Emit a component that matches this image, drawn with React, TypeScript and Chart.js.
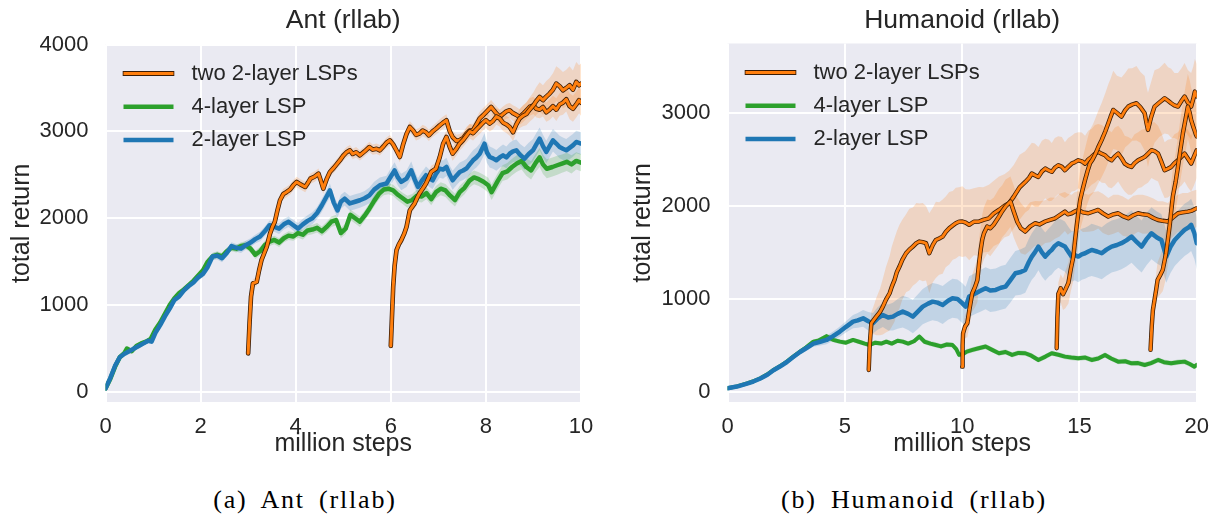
import { useEffect, useRef } from 'react';
import { Chart, registerables } from 'chart.js';

Chart.register(...registerables);

// [million steps, mean return, spread]
type Pt = [number, number, number];

const SANS = "'Liberation Sans', Arial, sans-serif";
const SERIF = "'Liberation Serif', 'Times New Roman', serif";

const LEGEND_LABELS = ['two 2-layer LSPs', '4-layer LSP', '2-layer LSP'];
const ORANGE = '#ff7f0e';
const GREEN = '#2ca02c';
const BLUE = '#1f77b4';
const LEGEND_COLORS = [ORANGE, GREEN, BLUE];

const ANT_TITLE = 'Ant (rllab)';
const ANT_CAPTION = '(a) Ant (rllab)';
const ANT_X_TICKS = [0, 2, 4, 6, 8, 10];
const ANT_Y_TICKS = [0, 1000, 2000, 3000, 4000];

const HUM_TITLE = 'Humanoid (rllab)';
const HUM_CAPTION = '(b) Humanoid (rllab)';
const HUM_X_TICKS = [0, 5, 10, 15, 20];
const HUM_Y_TICKS = [0, 1000, 2000, 3000];

const X_LABEL = 'million steps';
const Y_LABEL = 'total return';

// ---------- Ant (rllab) ----------
const antGreen: Pt[] = [
  [0, 40, 15], [0.1, 150, 20], [0.2, 290, 20], [0.3, 400, 20], [0.4, 450, 20], [0.45, 500, 25], [0.55, 470, 20],
  [0.65, 530, 25], [0.75, 560, 25], [0.85, 580, 25], [0.95, 610, 30], [1.05, 720, 30], [1.15, 800, 30], [1.25, 900, 35],
  [1.35, 1000, 35], [1.45, 1080, 35], [1.55, 1140, 35], [1.65, 1180, 35], [1.75, 1230, 35], [1.85, 1280, 35],
  [1.95, 1340, 35], [2.05, 1400, 40], [2.15, 1500, 40], [2.25, 1560, 40], [2.35, 1580, 40], [2.45, 1560, 40],
  [2.55, 1620, 40], [2.65, 1660, 40], [2.75, 1650, 45], [2.85, 1680, 45], [2.95, 1690, 45], [3.05, 1650, 45],
  [3.15, 1580, 50], [3.25, 1620, 50], [3.35, 1690, 50], [3.45, 1730, 50], [3.55, 1750, 50], [3.65, 1720, 50],
  [3.75, 1770, 50], [3.85, 1800, 50], [3.95, 1790, 50], [4.05, 1830, 55], [4.15, 1810, 55], [4.25, 1860, 55],
  [4.35, 1870, 55], [4.45, 1890, 55], [4.55, 1850, 55], [4.65, 1900, 60], [4.75, 1960, 60], [4.85, 1980, 60],
  [4.95, 1830, 60], [5.05, 1880, 60], [5.15, 2040, 60], [5.25, 2000, 60], [5.35, 1960, 60], [5.45, 2030, 60],
  [5.55, 2110, 60], [5.65, 2200, 65], [5.75, 2280, 65], [5.85, 2330, 65], [5.95, 2340, 65], [6.05, 2320, 65],
  [6.15, 2270, 65], [6.25, 2230, 65], [6.35, 2190, 70], [6.45, 2210, 70], [6.55, 2260, 70], [6.65, 2250, 70],
  [6.75, 2290, 70], [6.85, 2220, 70], [6.95, 2300, 70], [7.05, 2340, 75], [7.15, 2320, 75], [7.25, 2260, 75],
  [7.35, 2210, 75], [7.45, 2300, 75], [7.55, 2350, 75], [7.65, 2430, 80], [7.75, 2470, 80], [7.85, 2450, 80],
  [7.95, 2420, 80], [8.05, 2380, 85], [8.12, 2300, 90], [8.25, 2430, 90], [8.35, 2520, 90], [8.45, 2540, 95],
  [8.55, 2590, 95], [8.65, 2630, 95], [8.75, 2660, 100], [8.85, 2590, 100], [8.95, 2550, 105], [9.05, 2640, 105],
  [9.13, 2700, 110], [9.2, 2620, 110], [9.28, 2570, 110], [9.4, 2590, 110], [9.5, 2610, 110], [9.6, 2630, 105],
  [9.7, 2650, 105], [9.8, 2620, 105], [9.9, 2660, 100], [10, 2640, 100],
];

const antBlue: Pt[] = [
  [0, 40, 15], [0.1, 160, 20], [0.2, 300, 20], [0.3, 400, 20], [0.4, 440, 20], [0.5, 470, 20], [0.6, 500, 25],
  [0.7, 530, 25], [0.8, 560, 25], [0.9, 590, 25], [0.97, 580, 25], [1.05, 680, 30], [1.15, 770, 30], [1.25, 870, 35],
  [1.35, 960, 35], [1.45, 1060, 35], [1.55, 1100, 35], [1.65, 1170, 35], [1.75, 1220, 35], [1.85, 1260, 35],
  [1.95, 1320, 40], [2.05, 1360, 40], [2.15, 1440, 40], [2.25, 1560, 40], [2.35, 1570, 45], [2.45, 1540, 45],
  [2.55, 1600, 45], [2.65, 1680, 45], [2.75, 1660, 45], [2.85, 1650, 50], [2.95, 1690, 50], [3.05, 1720, 50],
  [3.15, 1760, 50], [3.25, 1790, 55], [3.35, 1850, 55], [3.45, 1920, 55], [3.55, 1900, 55], [3.65, 1880, 60],
  [3.75, 1930, 60], [3.85, 1960, 60], [3.95, 1920, 60], [4.05, 1880, 65], [4.15, 1930, 65], [4.25, 1970, 65],
  [4.35, 2000, 70], [4.45, 2060, 70], [4.55, 2150, 75], [4.65, 2250, 75], [4.72, 2320, 80], [4.8, 2180, 80],
  [4.88, 2090, 80], [4.95, 2190, 80], [5.03, 2226, 80], [5.14, 2170, 85], [5.25, 2190, 85], [5.35, 2207, 85],
  [5.45, 2230, 85], [5.55, 2264, 90], [5.65, 2330, 90], [5.77, 2380, 90], [5.91, 2400, 90], [6.0, 2480, 95],
  [6.08, 2550, 95], [6.15, 2470, 95], [6.22, 2418, 95], [6.33, 2456, 95], [6.43, 2552, 100], [6.5, 2450, 100],
  [6.57, 2360, 100], [6.65, 2430, 100], [6.74, 2495, 100], [6.81, 2460, 100], [6.88, 2437, 100], [6.95, 2510, 105],
  [7.03, 2572, 105], [7.1, 2560, 105], [7.17, 2591, 105], [7.24, 2500, 105], [7.3, 2437, 110], [7.38, 2490, 110],
  [7.45, 2533, 110], [7.52, 2550, 110], [7.59, 2572, 110], [7.66, 2620, 115], [7.73, 2667, 115], [7.8, 2700, 115],
  [7.87, 2743, 115], [7.97, 2858, 120], [8.02, 2760, 120], [8.08, 2705, 120], [8.15, 2690, 120], [8.22, 2667, 120],
  [8.29, 2700, 120], [8.36, 2724, 125], [8.43, 2700, 125], [8.5, 2743, 125], [8.57, 2770, 125], [8.64, 2782, 125],
  [8.72, 2730, 125], [8.81, 2686, 130], [8.9, 2740, 130], [8.99, 2782, 130], [9.06, 2850, 130], [9.13, 2916, 130],
  [9.2, 2830, 130], [9.27, 2763, 130], [9.34, 2830, 130], [9.41, 2897, 130], [9.48, 2860, 130], [9.55, 2820, 130],
  [9.62, 2800, 130], [9.69, 2782, 130], [9.76, 2810, 130], [9.83, 2839, 130], [9.9, 2878, 130], [10, 2860, 130],
];

// two-stage runs: the second stage starts at 3M and at 6M steps
const antTwoA: Pt[] = [
  [3.0, 445, 30], [3.03, 800, 40], [3.06, 1096, 50], [3.1, 1250, 50], [3.18, 1267, 50], [3.23, 1400, 55],
  [3.28, 1517, 55], [3.34, 1600, 55], [3.39, 1670, 55], [3.46, 1823, 60], [3.51, 1900, 60], [3.56, 1958, 60],
  [3.62, 2100, 60], [3.67, 2207, 60], [3.74, 2280, 60], [3.81, 2303, 60], [3.88, 2330, 60], [3.95, 2380, 60],
  [4.02, 2418, 60], [4.1, 2390, 60], [4.2, 2360, 60], [4.26, 2410, 60], [4.31, 2456, 60], [4.4, 2480, 60],
  [4.48, 2514, 60], [4.53, 2430, 60], [4.58, 2341, 60], [4.65, 2450, 60], [4.72, 2533, 60], [4.8, 2580, 60],
  [4.86, 2620, 60], [4.93, 2667, 60], [5.0, 2720, 60], [5.07, 2760, 60], [5.14, 2782, 60], [5.2, 2740, 60],
  [5.27, 2760, 60], [5.35, 2724, 60], [5.45, 2770, 60], [5.55, 2820, 60], [5.62, 2790, 60], [5.7, 2800, 60],
  [5.77, 2782, 60], [5.85, 2830, 60], [5.91, 2870, 60], [5.98, 2897, 60], [6.05, 2850, 60], [6.12, 2780, 60],
  [6.19, 2705, 60], [6.26, 2850, 65], [6.33, 2970, 65], [6.4, 3051, 65], [6.47, 3010, 65], [6.53, 2960, 65],
  [6.6, 2974, 65], [6.67, 3010, 65], [6.74, 2990, 65], [6.8, 2954, 65], [6.88, 3000, 65], [6.95, 3030, 65],
  [7.03, 3070, 70], [7.1, 3100, 70], [7.17, 3128, 70], [7.24, 3000, 70], [7.3, 2935, 70], [7.38, 2890, 70],
  [7.45, 2900, 70], [7.52, 2920, 70], [7.6, 2980, 75], [7.66, 3010, 75], [7.73, 3013, 75], [7.8, 3080, 75],
  [7.87, 3150, 75], [7.94, 3185, 80], [8.02, 3230, 80], [8.11, 3281, 80], [8.2, 3220, 80], [8.29, 3166, 85],
  [8.36, 3200, 85], [8.43, 3230, 85], [8.5, 3243, 85], [8.57, 3210, 90], [8.64, 3190, 90], [8.71, 3166, 90],
  [8.78, 3200, 95], [8.85, 3240, 95], [8.92, 3281, 100], [9.0, 3300, 100], [9.06, 3260, 100], [9.13, 3250, 100],
  [9.2, 3280, 110], [9.27, 3220, 110], [9.34, 3250, 120], [9.41, 3290, 120], [9.48, 3250, 130], [9.55, 3310, 130],
  [9.62, 3330, 140], [9.69, 3370, 140], [9.76, 3290, 150], [9.83, 3260, 150], [9.9, 3310, 150], [9.96, 3360, 150],
  [10, 3330, 150],
];

const antTwoB: Pt[] = [
  [6.0, 530, 30], [6.02, 800, 40], [6.05, 1211, 50], [6.08, 1450, 50], [6.12, 1632, 55], [6.17, 1700, 55],
  [6.22, 1747, 55], [6.28, 1820, 60], [6.33, 1900, 60], [6.4, 2092, 60], [6.45, 2130, 60], [6.5, 2169, 60],
  [6.55, 2230, 65], [6.6, 2284, 65], [6.67, 2340, 65], [6.74, 2399, 70], [6.8, 2470, 70], [6.85, 2533, 70],
  [6.95, 2572, 70], [7.03, 2705, 75], [7.1, 2858, 75], [7.17, 2935, 75], [7.24, 2820, 75], [7.3, 2743, 80],
  [7.38, 2800, 80], [7.45, 2860, 80], [7.52, 2900, 80], [7.59, 2950, 85], [7.66, 3000, 85], [7.73, 2980, 85],
  [7.8, 3020, 85], [7.87, 3060, 90], [7.94, 3100, 90], [8.0, 3130, 90], [8.08, 3090, 90], [8.15, 3120, 95],
  [8.22, 3170, 95], [8.29, 3150, 95], [8.36, 3100, 95], [8.43, 3080, 100], [8.5, 3050, 100], [8.57, 2990, 100],
  [8.64, 3080, 100], [8.71, 3150, 110], [8.78, 3180, 120], [8.85, 3200, 130], [8.92, 3250, 140], [9.0, 3300, 150],
  [9.06, 3350, 160], [9.13, 3396, 170], [9.2, 3360, 170], [9.27, 3400, 180], [9.34, 3435, 180], [9.41, 3480, 190],
  [9.48, 3550, 200], [9.55, 3520, 200], [9.62, 3473, 210], [9.69, 3500, 210], [9.76, 3531, 220], [9.83, 3480, 220],
  [9.9, 3569, 230], [9.96, 3530, 230], [10, 3550, 230],
];

// ---------- Humanoid (rllab) ----------
const humGreen: Pt[] = [
  [0, 40, 10], [0.4, 60, 10], [0.83, 93, 12], [1.1, 115, 12], [1.4, 147, 15], [1.7, 190, 15], [1.96, 237, 15],
  [2.25, 280, 18], [2.53, 326, 18], [2.8, 380, 20], [3.09, 434, 20], [3.35, 480, 22], [3.66, 541, 22], [3.9, 555, 25],
  [4.22, 600, 25], [4.5, 560, 25], [4.79, 541, 25], [5.05, 530, 25], [5.35, 559, 25], [5.6, 540, 25], [5.85, 520, 25],
  [6.06, 505, 25], [6.3, 530, 25], [6.55, 520, 25], [6.77, 541, 25], [7.0, 520, 25], [7.25, 550, 25], [7.47, 541, 25],
  [7.7, 520, 25], [7.95, 545, 25], [8.18, 595, 28], [8.4, 540, 28], [8.65, 520, 28], [8.88, 505, 28], [9.1, 490, 28],
  [9.35, 510, 28], [9.59, 505, 28], [9.75, 460, 28], [9.87, 398, 28], [10.05, 410, 28], [10.2, 434, 28],
  [10.44, 452, 28], [10.7, 470, 28], [11.0, 488, 28], [11.3, 450, 28], [11.57, 416, 28], [11.85, 430, 28],
  [12.13, 398, 28], [12.4, 420, 28], [12.69, 416, 28], [12.95, 390, 28], [13.25, 344, 28], [13.55, 380, 28],
  [13.82, 416, 28], [14.1, 400, 28], [14.38, 380, 28], [14.65, 370, 28], [14.95, 362, 28], [15.25, 370, 28],
  [15.52, 344, 28], [15.8, 360, 28], [16.09, 398, 28], [16.35, 360, 28], [16.65, 326, 28], [16.95, 330, 28],
  [17.22, 308, 28], [17.5, 310, 28], [17.78, 290, 28], [18.05, 310, 28], [18.35, 344, 28], [18.6, 320, 28],
  [18.91, 308, 28], [19.2, 320, 28], [19.48, 326, 28], [19.7, 300, 28], [19.9, 272, 28], [20, 290, 28],
];

const humBlue: Pt[] = [
  [0, 40, 10], [0.4, 58, 10], [0.83, 90, 12], [1.1, 112, 12], [1.4, 145, 15], [1.7, 185, 15], [1.96, 233, 18],
  [2.25, 276, 20], [2.53, 322, 22], [2.8, 375, 25], [3.09, 430, 28], [3.35, 470, 30], [3.66, 520, 35], [3.95, 540, 40],
  [4.22, 559, 45], [4.5, 600, 50], [4.79, 649, 55], [5.05, 700, 60], [5.35, 756, 70], [5.55, 770, 80], [5.78, 792, 90],
  [6.0, 760, 100], [6.2, 738, 110], [6.4, 790, 120], [6.62, 828, 130], [6.85, 800, 140], [7.05, 810, 150],
  [7.25, 840, 160], [7.47, 864, 170], [7.7, 840, 175], [7.9, 810, 180], [8.1, 860, 185], [8.32, 917, 190],
  [8.55, 950, 195], [8.74, 971, 200], [8.95, 960, 200], [9.17, 935, 205], [9.4, 980, 205], [9.59, 1007, 210],
  [9.8, 1000, 210], [10.01, 953, 215], [10.15, 917, 215], [10.3, 1025, 220], [10.58, 1061, 220], [10.8, 1090, 225],
  [11.0, 1115, 225], [11.2, 1090, 230], [11.43, 1097, 230], [11.65, 1120, 235], [11.85, 1133, 235], [12.05, 1200, 240],
  [12.27, 1276, 240], [12.5, 1290, 245], [12.69, 1312, 245], [12.85, 1400, 250], [12.97, 1455, 250], [13.1, 1500, 255],
  [13.25, 1563, 255], [13.4, 1500, 260], [13.54, 1455, 260], [13.7, 1500, 260], [13.82, 1527, 265], [13.95, 1570, 265],
  [14.1, 1599, 265], [14.25, 1580, 270], [14.38, 1563, 270], [14.52, 1510, 270], [14.67, 1455, 270], [14.8, 1470, 270],
  [14.95, 1455, 275], [15.1, 1480, 275], [15.24, 1491, 275], [15.38, 1510, 275], [15.52, 1527, 280], [15.75, 1510, 280],
  [15.95, 1491, 280], [16.15, 1530, 280], [16.37, 1563, 280], [16.6, 1580, 280], [16.79, 1599, 280], [17.0, 1630, 280],
  [17.22, 1670, 280], [17.45, 1610, 280], [17.65, 1563, 280], [17.85, 1640, 280], [18.07, 1706, 280], [18.3, 1660, 280],
  [18.49, 1634, 280], [18.6, 1540, 280], [18.7, 1455, 280], [18.88, 1560, 280], [19.06, 1634, 280], [19.27, 1690, 280],
  [19.48, 1742, 280], [19.65, 1770, 280], [19.76, 1796, 280], [19.9, 1706, 280], [20, 1599, 280],
];

// two-stage runs: the second stage starts at 6M, 10M, 14M and 18M steps
const humTwoA: Pt[] = [
  [6.02, 236, 40], [6.06, 500, 80], [6.13, 738, 120], [6.25, 780, 160], [6.34, 810, 200], [6.5, 860, 250],
  [6.62, 917, 300], [6.75, 990, 350], [6.91, 1061, 400], [7.0, 1130, 430], [7.12, 1204, 450], [7.22, 1290, 440],
  [7.33, 1348, 450], [7.45, 1420, 430], [7.61, 1491, 420], [7.75, 1530, 440], [7.9, 1563, 420], [8.05, 1600, 430],
  [8.18, 1617, 410], [8.32, 1610, 420], [8.46, 1599, 400], [8.6, 1491, 430], [8.75, 1580, 400], [8.88, 1634, 410],
  [9.02, 1650, 390], [9.17, 1670, 400], [9.3, 1720, 380], [9.45, 1760, 390], [9.6, 1790, 370], [9.73, 1814, 380],
  [9.87, 1831, 370], [10.01, 1832, 380], [10.15, 1820, 360], [10.3, 1796, 380], [10.5, 1830, 360], [10.72, 1832, 370],
  [10.9, 1850, 350], [11.14, 1867, 360], [11.35, 1920, 350], [11.57, 1957, 360], [11.8, 2000, 340], [12.0, 2029, 350],
  [12.2, 2100, 340], [12.45, 2200, 350], [12.69, 2258, 330], [12.85, 2300, 340], [12.97, 2348, 330], [13.1, 2330, 340],
  [13.25, 2312, 320], [13.4, 2370, 330], [13.54, 2402, 320], [13.7, 2380, 330], [13.82, 2366, 310], [13.95, 2410, 320],
  [14.1, 2438, 310], [14.25, 2420, 320], [14.38, 2384, 300], [14.52, 2420, 310], [14.67, 2455, 300], [14.8, 2470, 310],
  [14.95, 2491, 300], [15.1, 2480, 310], [15.24, 2455, 300], [15.38, 2500, 310], [15.52, 2527, 300], [15.66, 2560, 310],
  [15.8, 2581, 300], [15.95, 2560, 310], [16.09, 2545, 300], [16.23, 2510, 310], [16.37, 2491, 300], [16.5, 2530, 310],
  [16.65, 2563, 300], [16.8, 2510, 310], [16.93, 2455, 300], [17.08, 2430, 310], [17.22, 2419, 300], [17.35, 2460, 310],
  [17.5, 2491, 300], [17.65, 2510, 310], [17.78, 2527, 300], [17.92, 2560, 310], [18.07, 2599, 300], [18.2, 2590, 310],
  [18.35, 2563, 300], [18.5, 2470, 310], [18.63, 2384, 300], [18.77, 2400, 310], [18.91, 2419, 300], [19.05, 2460, 310],
  [19.2, 2491, 300], [19.35, 2530, 310], [19.48, 2563, 300], [19.62, 2510, 310], [19.76, 2455, 300], [19.88, 2530, 310],
  [20, 2599, 300],
];

const humTwoB: Pt[] = [
  [10.0, 272, 40], [10.02, 500, 80], [10.04, 631, 100], [10.12, 700, 120], [10.22, 738, 150], [10.32, 900, 180],
  [10.43, 1061, 200], [10.55, 1130, 220], [10.65, 1204, 240], [10.72, 1380, 250], [10.79, 1527, 260], [10.86, 1640, 270],
  [10.93, 1706, 280], [11.07, 1778, 290], [11.2, 1760, 300], [11.35, 1800, 290], [11.57, 1885, 300], [11.7, 1940, 280],
  [11.85, 1993, 290], [12.06, 2047, 270], [12.2, 1940, 280], [12.35, 1830, 260], [12.5, 1760, 270], [12.69, 1724, 250],
  [12.9, 1780, 260], [13.12, 1814, 240], [13.3, 1800, 250], [13.54, 1832, 230], [13.75, 1850, 240], [13.96, 1867, 220],
  [14.15, 1900, 230], [14.38, 1939, 210], [14.5, 1910, 220], [14.67, 1921, 200], [14.8, 1940, 210], [14.95, 1957, 200],
  [15.15, 1930, 210], [15.38, 1921, 200], [15.6, 1940, 210], [15.8, 1957, 200], [16.0, 1920, 210], [16.23, 1885, 200],
  [16.45, 1910, 210], [16.65, 1921, 200], [16.85, 1890, 210], [17.08, 1867, 200], [17.3, 1900, 210], [17.5, 1921, 200],
  [17.7, 1910, 210], [17.92, 1903, 200], [18.15, 1870, 210], [18.35, 1849, 200], [18.55, 1840, 210], [18.77, 1832, 200],
  [19.0, 1880, 210], [19.2, 1921, 200], [19.4, 1930, 210], [19.62, 1939, 200], [19.8, 1950, 210], [20, 1975, 200],
];

const humTwoC: Pt[] = [
  [14.03, 470, 40], [14.06, 800, 80], [14.1, 1054, 120], [14.2, 1115, 150], [14.3, 1050, 170], [14.4, 1100, 200],
  [14.53, 1172, 220], [14.63, 1320, 240], [14.74, 1455, 260], [14.81, 1620, 280], [14.88, 1778, 300], [14.95, 1920, 310],
  [15.03, 2064, 320], [15.13, 2170, 330], [15.24, 2280, 340], [15.35, 2380, 350], [15.45, 2459, 360], [15.56, 2500, 370],
  [15.66, 2548, 380], [15.8, 2630, 390], [15.95, 2710, 400], [16.1, 2800, 410], [16.23, 2889, 420], [16.33, 2960, 410],
  [16.44, 3032, 420], [16.6, 3000, 400], [16.79, 2960, 420], [16.95, 3030, 400], [17.08, 3068, 410], [17.25, 3090, 390],
  [17.43, 3104, 400], [17.6, 3060, 380], [17.78, 2996, 400], [17.85, 2900, 390], [17.92, 2817, 400], [18.05, 2950, 380],
  [18.2, 3068, 390], [18.4, 3110, 370], [18.63, 3158, 380], [18.78, 3130, 360], [18.91, 3104, 370], [19.05, 3080, 350],
  [19.2, 3068, 360], [19.35, 3130, 350], [19.48, 3176, 360], [19.62, 3110, 350], [19.76, 3068, 360], [19.85, 3150, 350],
  [19.92, 3229, 350], [20, 3176, 350],
];

const humTwoD: Pt[] = [
  [18.03, 452, 40], [18.08, 700, 80], [18.13, 880, 120], [18.2, 989, 150], [18.27, 1100, 170], [18.33, 1204, 190],
  [18.45, 1260, 210], [18.55, 1312, 230], [18.62, 1400, 250], [18.69, 1491, 260], [18.77, 1640, 270], [18.84, 1778, 280],
  [18.91, 1940, 290], [18.98, 2100, 300], [19.1, 2260, 310], [19.2, 2423, 320], [19.3, 2600, 330], [19.41, 2781, 340],
  [19.52, 2930, 350], [19.62, 3068, 350], [19.7, 3000, 350], [19.76, 2924, 350], [19.84, 2860, 350], [19.9, 2817, 350],
  [19.96, 2770, 350], [20, 2746, 350],
];

interface Run {
  pts: Pt[];
  color: string;
  band: string;
  width: number;
  order: number;
  outline?: string;
}

interface Panel {
  title: string;
  xMax: number;
  yMin: number;
  yMax: number;
  xTicks: number[];
  yTicks: number[];
  runs: Run[];
  axisWidth: number;
  yTitlePad: number;
  padRight: number;
  padTop: number;
}

const ORANGE_BAND = 'rgba(255,127,14,0.2)';
const GREEN_BAND = 'rgba(44,160,44,0.2)';
const BLUE_BAND = 'rgba(31,119,180,0.2)';
const OUTLINE = '#3b1c05';

function buildDatasets(runs: Run[]) {
  const sets: any[] = [];
  runs.forEach((r) => {
    sets.push({
      data: r.pts.map((p) => ({ x: p[0], y: p[1] - p[2] })),
      borderColor: 'transparent', borderWidth: 0, pointRadius: 0, fill: false, order: 200,
    });
    sets.push({
      data: r.pts.map((p) => ({ x: p[0], y: p[1] + p[2] })),
      borderColor: 'transparent', borderWidth: 0, pointRadius: 0, fill: '-1', backgroundColor: r.band, order: 200,
    });
  });
  runs.forEach((r) => {
    const mid = r.pts.map((p) => ({ x: p[0], y: p[1] }));
    const common = { pointRadius: 0, fill: false, tension: 0, borderCapStyle: 'round', borderJoinStyle: 'round' };
    if (r.outline) {
      sets.push({ ...common, data: mid, borderColor: r.outline, borderWidth: r.width + 1.6, order: r.order + 1 });
    }
    sets.push({ ...common, data: mid, borderColor: r.color, borderWidth: r.width, order: r.order });
  });
  return sets;
}

function decoPlugin(title: string) {
  return {
    id: 'panelDeco',
    beforeDraw(chart: any) {
      const { ctx, chartArea: a } = chart;
      ctx.save();
      ctx.fillStyle = '#eaeaf2';
      ctx.fillRect(a.left, a.top, a.right - a.left, a.bottom - a.top);
      ctx.restore();
    },
    afterDraw(chart: any) {
      const { ctx, chartArea: a } = chart;
      ctx.save();
      ctx.fillStyle = '#262626';
      ctx.textAlign = 'center';
      ctx.textBaseline = 'middle';
      ctx.font = `26.5px ${SANS}`;
      ctx.fillText(title, (a.left + a.right) / 2, 21);

      ctx.font = `22px ${SANS}`;
      ctx.textAlign = 'left';
      LEGEND_LABELS.forEach((label, i) => {
        const y = a.top + 29 + i * 33.3;
        const x0 = a.left + 18;
        const x1 = a.left + 68;
        ctx.lineCap = 'butt';
        if (i === 0) {
          ctx.strokeStyle = OUTLINE;
          ctx.lineWidth = 5;
          ctx.beginPath(); ctx.moveTo(x0 - 0.8, y); ctx.lineTo(x1 + 0.8, y); ctx.stroke();
          ctx.strokeStyle = LEGEND_COLORS[i];
          ctx.lineWidth = 3.2;
        } else {
          ctx.strokeStyle = LEGEND_COLORS[i];
          ctx.lineWidth = 4.5;
        }
        ctx.beginPath(); ctx.moveTo(x0, y); ctx.lineTo(x1, y); ctx.stroke();
        ctx.fillStyle = '#262626';
        ctx.fillText(label, a.left + 86, y);
      });
      ctx.restore();
    },
  };
}

function makeConfig(p: Panel): any {
  const tickFont = { family: SANS, size: 22 };
  const titleFont = { family: SANS, size: 25 };
  return {
    type: 'line',
    data: { datasets: buildDatasets(p.runs) },
    options: {
      animation: false,
      responsive: false,
      events: [],
      layout: { padding: { top: p.padTop, left: 0, right: p.padRight, bottom: 0 } },
      plugins: { legend: { display: false }, tooltip: { enabled: false }, title: { display: false } },
      scales: {
        x: {
          type: 'linear',
          min: 0,
          max: p.xMax,
          afterBuildTicks: (s: any) => { s.ticks = p.xTicks.map((v) => ({ value: v })); },
          afterFit: (s: any) => { s.height = 68; },
          grid: { color: '#ffffff', lineWidth: 2, drawTicks: false },
          border: { display: false },
          ticks: { padding: 12, color: '#262626', font: tickFont, maxRotation: 0, autoSkip: false, callback: (v: any) => String(v) },
          title: { display: true, text: X_LABEL, color: '#262626', font: titleFont, padding: { top: 0, bottom: 11 } },
        },
        y: {
          type: 'linear',
          min: p.yMin,
          max: p.yMax,
          afterBuildTicks: (s: any) => { s.ticks = p.yTicks.map((v) => ({ value: v })); },
          afterFit: (s: any) => { s.width = p.axisWidth; },
          grid: { color: '#ffffff', lineWidth: 2, drawTicks: false },
          border: { display: false },
          ticks: { padding: 17, color: '#262626', font: tickFont, autoSkip: false, callback: (v: any) => String(v) },
          title: { display: true, text: Y_LABEL, color: '#262626', font: titleFont, padding: { top: p.yTitlePad, bottom: 0 } },
        },
      },
    },
    plugins: [decoPlugin(p.title)],
  };
}

const antPanel: Panel = {
  title: ANT_TITLE,
  xMax: 10,
  yMin: -115,
  yMax: 4000,
  xTicks: ANT_X_TICKS,
  yTicks: ANT_Y_TICKS,
  axisWidth: 105.5,
  yTitlePad: 7,
  padRight: 29,
  padTop: 44.5,
  runs: [
    { pts: antGreen, color: GREEN, band: GREEN_BAND, width: 4.5, order: 60 },
    { pts: antBlue, color: BLUE, band: BLUE_BAND, width: 4.5, order: 50 },
    { pts: antTwoA, color: ORANGE, band: ORANGE_BAND, width: 3, order: 40, outline: OUTLINE },
    { pts: antTwoB, color: ORANGE, band: ORANGE_BAND, width: 3, order: 30, outline: OUTLINE },
  ],
};

const humPanel: Panel = {
  title: HUM_TITLE,
  xMax: 20,
  yMin: -108,
  yMax: 3746,
  xTicks: HUM_X_TICKS,
  yTicks: HUM_Y_TICKS,
  axisWidth: 117.5,
  yTitlePad: 18,
  padRight: 20,
  padTop: 43.5,
  runs: [
    { pts: humGreen, color: GREEN, band: GREEN_BAND, width: 4, order: 60 },
    { pts: humBlue, color: BLUE, band: BLUE_BAND, width: 4.5, order: 50 },
    { pts: humTwoA, color: ORANGE, band: ORANGE_BAND, width: 2.8, order: 40, outline: OUTLINE },
    { pts: humTwoB, color: ORANGE, band: ORANGE_BAND, width: 2.8, order: 36, outline: OUTLINE },
    { pts: humTwoC, color: ORANGE, band: ORANGE_BAND, width: 2.8, order: 32, outline: OUTLINE },
    { pts: humTwoD, color: ORANGE, band: ORANGE_BAND, width: 2.8, order: 28, outline: OUTLINE },
  ],
};

function PanelChart({ panel, width }: { panel: Panel; width: number }) {
  const ref = useRef<HTMLCanvasElement | null>(null);
  useEffect(() => {
    if (!ref.current) return;
    const chart = new Chart(ref.current, makeConfig(panel));
    return () => chart.destroy();
  }, [panel]);
  return <canvas ref={ref} width={width} height={470} style={{ width, height: 470, display: 'block' }} />;
}

const captionStyle: any = {
  position: 'absolute',
  top: 487,
  textAlign: 'center',
  fontFamily: SERIF,
  fontSize: 26,
  lineHeight: '26px',
  letterSpacing: '1.8px',
  wordSpacing: '6px',
  color: '#000',
  whiteSpace: 'nowrap',
};

export default function App() {
  return (
    <div style={{ position: 'absolute', left: 0, top: 0, width: 1221, height: 517, background: '#fff', overflow: 'hidden' }}>
      <div style={{ position: 'absolute', left: 0, top: 0 }}>
        <PanelChart panel={antPanel} width={610} />
      </div>
      <div style={{ position: 'absolute', left: 610, top: 0 }}>
        <PanelChart panel={humPanel} width={611} />
      </div>
      <div style={{ ...captionStyle, left: 0, width: 610 }}>{ANT_CAPTION}</div>
      <div style={{ ...captionStyle, left: 610, width: 608 }}>{HUM_CAPTION}</div>
    </div>
  );
}
